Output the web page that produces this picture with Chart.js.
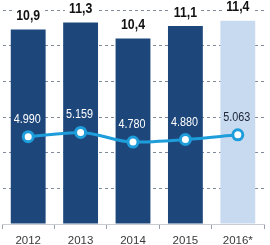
<!DOCTYPE html>
<html>
<head>
<meta charset="utf-8">
<script src="https://cdn.jsdelivr.net/npm/chart.js@4/dist/chart.umd.min.js"></script>
<style>
  html, body { margin: 0; padding: 0; background: #fff; overflow: hidden; }
  #wrap { position: relative; width: 270px; height: 245px; overflow: hidden; }
  canvas { position: absolute; left: -6px; top: 0; }
</style>
</head>
<body>
<div id="wrap"><canvas id="chart" width="278" height="245"></canvas></div>
<script>
const years = ["2012", "2013", "2014", "2015", "2016*"];
const barValues = [10.9, 11.3, 10.4, 11.1, 11.4];
const lineValues = [4.99, 5.159, 4.78, 4.88, 5.063];
const barColors = ["#1d467b", "#1d467b", "#1d467b", "#1d467b", "#c7daf0"];
const lineLabelColors = ["#ffffff", "#ffffff", "#ffffff", "#ffffff", "#1b2235"];

const FONT = '"Liberation Sans", Arial, sans-serif';

// text squeezed sideways, the source uses a narrow face
function narrowText(ctx, text, x, y, sx) {
  ctx.save();
  ctx.translate(x, y);
  ctx.scale(sx, 1);
  ctx.fillText(text, 0, 0);
  ctx.restore();
}

const labelPlugin = {
  id: "valueLabels",
  afterDatasetsDraw(chart) {
    const ctx = chart.ctx;
    ctx.save();
    ctx.textAlign = "center";
    ctx.textBaseline = "alphabetic";

    // bar values, white box cuts the grid line
    const bars = chart.getDatasetMeta(1).data;
    ctx.font = "bold 15px " + FONT;
    bars.forEach((bar, i) => {
      const text = barValues[i].toFixed(1).replace(".", ",");
      const w = ctx.measureText(text).width * 0.82;
      const base = bar.y - 9.5;
      ctx.fillStyle = "#fff";
      ctx.fillRect(bar.x - w / 2 - 4, base - 13, w + 8, 15);
      ctx.fillStyle = "#111";
      narrowText(ctx, text, bar.x, base, 0.82);
    });

    // line values
    const pts = chart.getDatasetMeta(0).data;
    ctx.font = "12px " + FONT;
    pts.forEach((p, i) => {
      ctx.fillStyle = lineLabelColors[i];
      narrowText(ctx, lineValues[i].toFixed(3), p.x - 1, p.y - 14, 0.9);
    });
    ctx.restore();
  },
};

new Chart(document.getElementById("chart"), {
  data: {
    labels: years,
    datasets: [
      {
        type: "line",
        data: lineValues,
        yAxisID: "y1",
        order: 0,
        borderColor: "#1e9ddb",
        borderWidth: 3,
        pointRadius: 5,
        pointBorderWidth: 3,
        pointBackgroundColor: "#ffffff",
        pointBorderColor: "#1e9ddb",
        cubicInterpolationMode: "monotone",
      },
      {
        type: "bar",
        data: barValues,
        yAxisID: "y",
        order: 1,
        backgroundColor: barColors,
        categoryPercentage: 1,
        barPercentage: 0.665,
      },
    ],
  },
  options: {
    responsive: false,
    animation: false,
    layout: { padding: { top: 10, left: 0, right: 0, bottom: 0 } },
    plugins: { legend: { display: false }, tooltip: { enabled: false } },
    scales: {
      x: {
        offset: true,
        afterFit: (s) => { s.height = 21; },
        grid: {
          offset: true,
          drawOnChartArea: false,
          drawTicks: true,
          tickLength: 5,
          color: "#9aa3ad",
        },
        border: { display: true, color: "#c8ccd2" },
        ticks: {
          color: "#3a3a3a",
          padding: 5,
          font: { family: FONT, size: 11.5 },
        },
      },
      y: {
        min: 0,
        max: 12,
        afterFit: (s) => { s.width = 0; },
        ticks: { display: false, stepSize: 2 },
        border: { display: true, color: "rgba(0,0,0,0)", dash: [3, 3] },
        grid: { color: "#7f8b9a", lineWidth: 1, drawTicks: false },
      },
      y1: {
        display: false,
        min: 1.58,
        max: 9.94,
      },
    },
  },
  plugins: [labelPlugin],
});
</script>
</body>
</html>
